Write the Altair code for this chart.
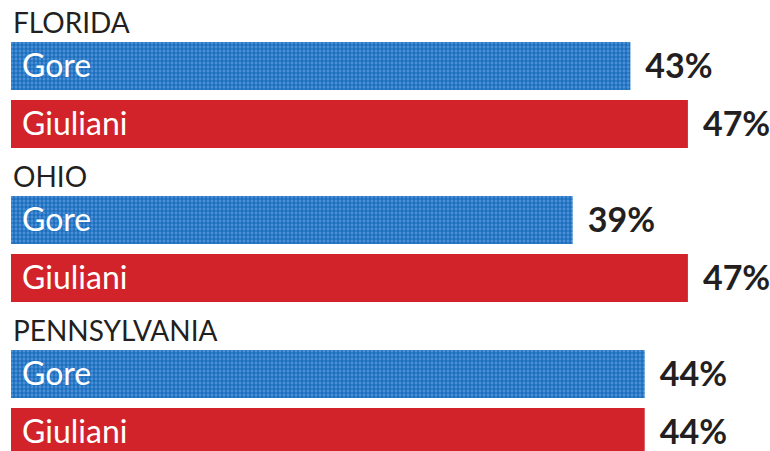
import altair as alt
import pandas as pd

states = ["FLORIDA", "OHIO", "PENNSYLVANIA"]
candidates = ["Gore", "Giuliani"]
gore = [43, 39, 44]
giuliani = [47, 47, 44]
red = "#d2232a"
ink = "#231f20"
FONT = "Lato"

rows = []
for s, g, r in zip(states, gore, giuliani):
    rows.append({"state": s, "candidate": "Gore", "value": g, "label": f"{g}%", "start": 0})
    rows.append({"state": s, "candidate": "Giuliani", "value": r, "label": f"{r}%", "start": 0})
df = pd.DataFrame(rows)
titles = pd.DataFrame({"state": states, "start": [0] * len(states)})

W, H = 759, 414
XMAX = 52.7
BAR_H = 48
xscale = alt.Scale(domain=[0, XMAX], nice=False, zero=True)
yscale = alt.Scale(domain=states, paddingInner=48 / 154, paddingOuter=0)
oscale = alt.Scale(domain=candidates, paddingInner=10 / 58, paddingOuter=0)

X = alt.X("value:Q", scale=xscale, axis=None)
X0 = alt.X("start:Q", scale=xscale, axis=None)
Y = alt.Y("state:N", scale=yscale, axis=None)
YO = alt.YOffset("candidate:N", scale=oscale)


def stripes(length_px, c0, c1, vertical):
    """Hard-edged 2px stripes across a mark's box (texture of the blue bars)."""
    stops = []
    n = int(length_px // 2) + 1
    for k in range(n):
        a = min(1.0, 2 * k / length_px)
        b = min(1.0, 2 * (k + 1) / length_px)
        c = c0 if k % 2 == 0 else c1
        stops.append(alt.GradientStop(color=c, offset=a))
        stops.append(alt.GradientStop(color=c, offset=b))
        if b >= 1.0:
            break
    if vertical:
        return alt.LinearGradient(gradient="linear", stops=stops, x1=0, x2=0, y1=0, y2=1)
    return alt.LinearGradient(gradient="linear", stops=stops, x1=0, x2=1, y1=0, y2=0)


base = alt.Chart(df)
layers = []

# red bars
layers.append(base.transform_filter(alt.datum.candidate == "Giuliani").mark_bar(color=red).encode(
    x=X, y=Y, yOffset=YO))

# blue bars: horizontal stripes, then vertical stripes laid over them
rowfill = stripes(BAR_H, "#4a90d8", "#2f7ec9", vertical=True)
for s, g in zip(states, gore):
    w = g * W / XMAX
    sub = base.transform_filter((alt.datum.candidate == "Gore") & (alt.datum.state == s))
    layers.append(sub.mark_bar(color=rowfill).encode(x=X, y=Y, yOffset=YO))
    colfill = stripes(w, "rgba(10,90,170,0)", "rgba(10,90,170,0.45)", vertical=False)
    layers.append(sub.mark_bar(color=colfill).encode(x=X, y=Y, yOffset=YO))

# candidate names inside bars
layers.append(base.mark_text(align="left", baseline="middle", dx=11, dy=1,
                             font=FONT, fontSize=32, color="white").encode(
    x=X0, y=Y, yOffset=YO, text="candidate:N"))

# percentages
layers.append(base.mark_text(align="left", baseline="middle", dx=15, dy=2,
                             font=FONT, fontSize=34, fontWeight="bold", color=ink).encode(
    x=X, y=Y, yOffset=YO, text="label:N"))

# state titles above each group
layers.append(alt.Chart(titles).mark_text(align="left", baseline="alphabetic", dx=2, dy=-9,
                                          font=FONT, fontSize=28, color=ink).encode(
    x=X0,
    y=alt.Y("state:N", scale=yscale, axis=None, bandPosition=0),
    text="state:N"))

chart = alt.layer(*layers).properties(
    width=W, height=H,
    autosize=alt.AutoSizeParams(type="none"),
    padding={"left": 11, "top": 42, "right": 0, "bottom": 0},
    background="white",
).configure_view(stroke=None)

chart.save("out.html", embed_options={"renderer": "svg", "actions": False})
